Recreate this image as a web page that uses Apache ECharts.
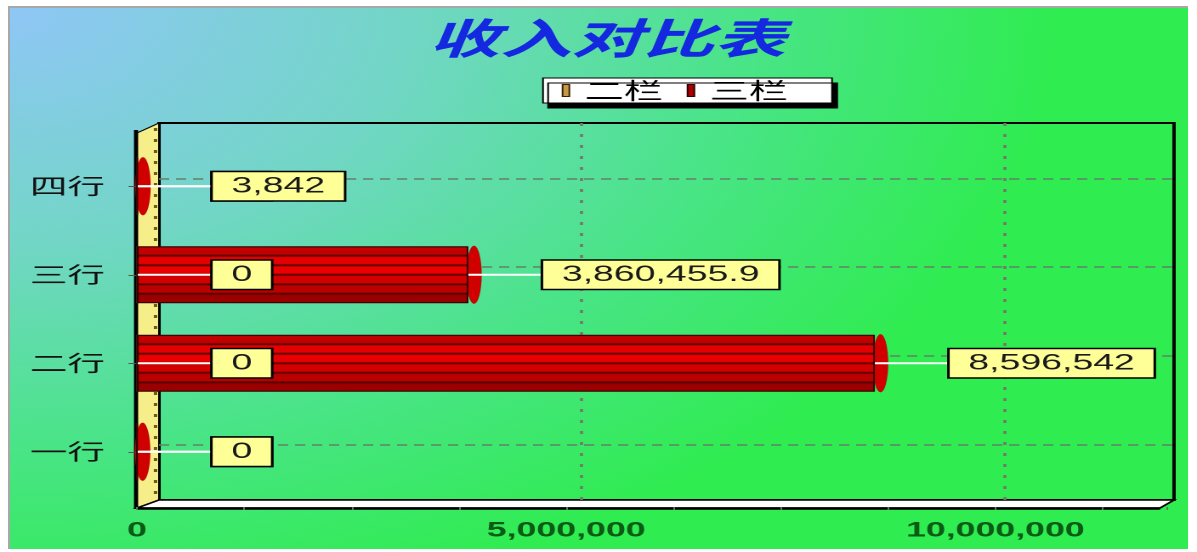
<!DOCTYPE html>
<html><head><meta charset="utf-8">
<script src="https://cdn.jsdelivr.net/npm/echarts@6/dist/echarts.min.js"></script>
<style>
html,body{margin:0;padding:0;background:#fff;overflow:hidden;width:1197px;height:552px;position:relative;}
#bg{position:absolute;left:8px;top:6px;width:1180px;height:543px;box-sizing:border-box;border-left:2px solid #a8a8a8;border-top:2px solid #a8a8a8;
background:radial-gradient(ellipse 1050px 620px at 0 0,#8fc6f6 0%,#72d6c6 38%,#4ae488 70%,#2fec50 100%);}
#chart{position:absolute;left:0;top:0;width:704px;height:552px;transform:scale(1.70028,1);transform-origin:0 0;}
</style></head><body><div id="bg"></div><div id="chart"></div>
<script>
// ---- data ----
const categories = ['一行', '二行', '三行', '四行'];
const seriesNames = ['二栏', '三栏'];
const col2Values = [0, 0, 0, 0];
const col3Values = [0, 8596542, 3860455.9, 3842];
const axisMax = 12000000;
const axisLabelStep = 5000000;
const minorSplit = 4;
const titleText = '收入对比表';

// ---- layout helpers (reference px -> chart px, chart is stretched horizontally) ----
const SX = 1197 / 704;
const R = x => x / SX;
const fmt = v => Number(v).toLocaleString('en-US', {maximumFractionDigits: 1});

function ribs(colors, line) {
  const stops = [];
  const n = colors.length;
  colors.forEach((c, i) => {
    const a = i / n, b = (i + 1) / n;
    stops.push({offset: a, color: line}, {offset: a + 0.03, color: c},
               {offset: b - 0.03, color: c}, {offset: b, color: line});
  });
  return new echarts.graphic.LinearGradient(0, 0, 0, 1, stops);
}

const labelRich = {
  ln: {width: 44, height: 2, backgroundColor: '#ffffff'},
  box: {backgroundColor: '#ffff98', borderColor: '#000', borderWidth: 1.5,
        padding: [3, 11, 3, 11], fontSize: 22, lineHeight: 22, color: '#1a1a1a',
        fontFamily: 'Liberation Sans'}
};
const valueLabel = {
  show: true, position: 'right', distance: 0,
  formatter: p => '{ln|}{box|' + fmt(p.value) + '}',
  rich: labelRich
};

const chart = echarts.init(document.getElementById('chart'), null, {devicePixelRatio: 2});
chart.setOption({
  animation: false,
  textStyle: {fontFamily: 'Liberation Sans, Noto Sans CJK SC'},
  title: {
    text: titleText, left: R(420), top: 12,
    textStyle: {fontSize: 42, fontStyle: 'italic', fontWeight: 'bold', color: '#1428e0',
                fontFamily: 'Noto Sans CJK SC'}
  },
  legend: {
    left: R(543), top: 78, orient: 'horizontal',
    backgroundColor: '#ffffff', borderColor: '#000', borderWidth: 1,
    shadowColor: '#000', shadowBlur: 0, shadowOffsetX: 3, shadowOffsetY: 5,
    padding: [1, 26, 1, 11], itemGap: 14, itemWidth: 4, itemHeight: 12, icon: 'rect',
    textStyle: {fontSize: 23, color: '#000', fontFamily: 'Noto Sans CJK SC', padding: [0, 0, 0, 4]},
    data: [
      {name: seriesNames[0], itemStyle: {color: '#c49a48', borderColor: '#3a2000', borderWidth: 1}},
      {name: seriesNames[1], itemStyle: {color: '#a80000', borderColor: '#300000', borderWidth: 1}}
    ]
  },
  grid: [
    {left: R(159), top: 123, width: R(1015), height: 377, show: true,
     borderColor: '#000', borderWidth: 2, backgroundColor: 'transparent', containLabel: false},
    {left: R(159), top: 134, width: R(1015), height: 355, show: false},
    {left: R(137), top: 142, width: R(1030), height: 354, show: false}
  ],
  xAxis: [
    {gridIndex: 0, type: 'value', min: 0, max: axisMax, interval: axisLabelStep,
     axisLine: {show: false}, axisTick: {show: false}, axisLabel: {show: false},
     splitLine: {show: true, showMinLine: false, showMaxLine: false,
                 lineStyle: {type: [3, 8], color: '#74786a', width: 1.8}}},
    {gridIndex: 1, type: 'value', min: 0, max: axisMax, show: false},
    {gridIndex: 2, type: 'value', min: 0, max: axisMax, interval: axisLabelStep, offset: 11,
     axisLine: {show: false},
     axisTick: {show: true, length: 3, lineStyle: {color: '#5d7d5d'}},
     minorTick: {show: true, splitNumber: minorSplit, length: 3, lineStyle: {color: '#5d7d5d'}},
     splitLine: {show: false},
     axisLabel: {show: true, showMaxLabel: false, margin: 13, fontSize: 21, fontWeight: 'bold',
                 color: '#0b5a16', fontFamily: 'Liberation Sans',
                 formatter: v => (v % axisLabelStep === 0 ? fmt(v) : '')}}
  ],
  yAxis: [
    {gridIndex: 0, type: 'category', data: categories, show: false},
    {gridIndex: 1, type: 'category', data: categories, show: false},
    {gridIndex: 2, type: 'category', data: categories,
     axisLine: {show: false},
     axisTick: {show: true, alignWithLabel: true, length: 5, lineStyle: {color: '#555'}},
     splitLine: {show: false},
     axisLabel: {fontSize: 22, color: '#111', margin: 19, fontFamily: 'Noto Sans CJK SC'}}
  ],
  graphic: {
    elements: [
      {type: 'polygon', shape: {points: [[R(137), 133], [R(159), 123], [R(159), 500], [R(137), 508]]},
       style: {fill: '#f6ee88', stroke: '#000', lineWidth: 1}},
      {type: 'line', shape: {x1: R(155.5), y1: 128, x2: R(155.5), y2: 498},
       style: {stroke: '#6a5a20', lineWidth: 2, lineDash: [3, 8]}},
      {type: 'polygon', shape: {points: [[R(137), 508], [R(159), 500], [R(1174), 500], [R(1160), 508]]},
       style: {fill: '#ffffff', stroke: '#000', lineWidth: 1.5}},
      {type: 'line', shape: {x1: R(137), y1: 508.5, x2: R(1160), y2: 508.5},
       style: {stroke: '#000', lineWidth: 2.5}},
      {type: 'line', shape: {x1: R(136), y1: 130, x2: R(136), y2: 509},
       style: {stroke: '#000', lineWidth: 2.4}}
    ]
  },
  series: [
    {name: 'gridlines', type: 'line', xAxisIndex: 1, yAxisIndex: 1, data: [], z: 1, silent: true,
     markLine: {silent: true, z: 1, symbol: 'none', label: {show: false},
                lineStyle: {type: [6, 4], color: '#62826a', width: 1.5},
                data: categories.map(c => ({yAxis: c}))}},
    {name: seriesNames[0], type: 'bar', xAxisIndex: 2, yAxisIndex: 2, data: col2Values,
     barWidth: 57, barGap: '-100%', z: 2,
     itemStyle: {color: '#c49a48', borderColor: '#3a2000', borderWidth: 1},
     label: valueLabel},
    {name: seriesNames[1], type: 'bar', xAxisIndex: 2, yAxisIndex: 2, data: col3Values,
     barWidth: 57, barGap: '-100%', z: 2,
     itemStyle: {color: ribs(['#c20000', '#e40000', '#ea0000', '#d40000', '#bc0000', '#9a0000'], '#4a0000'),
                 borderColor: '#300000', borderWidth: 1},
     label: valueLabel},
    {name: 'cap', type: 'pictorialBar', xAxisIndex: 2, yAxisIndex: 2, data: col3Values, z: 2,
     symbol: 'circle', symbolSize: [9, 58], symbolPosition: 'end', symbolOffset: [8, 0],
     itemStyle: {color: '#d00000', borderColor: '#3a0000', borderWidth: 1}}
  ]
});
</script>
</body></html>
